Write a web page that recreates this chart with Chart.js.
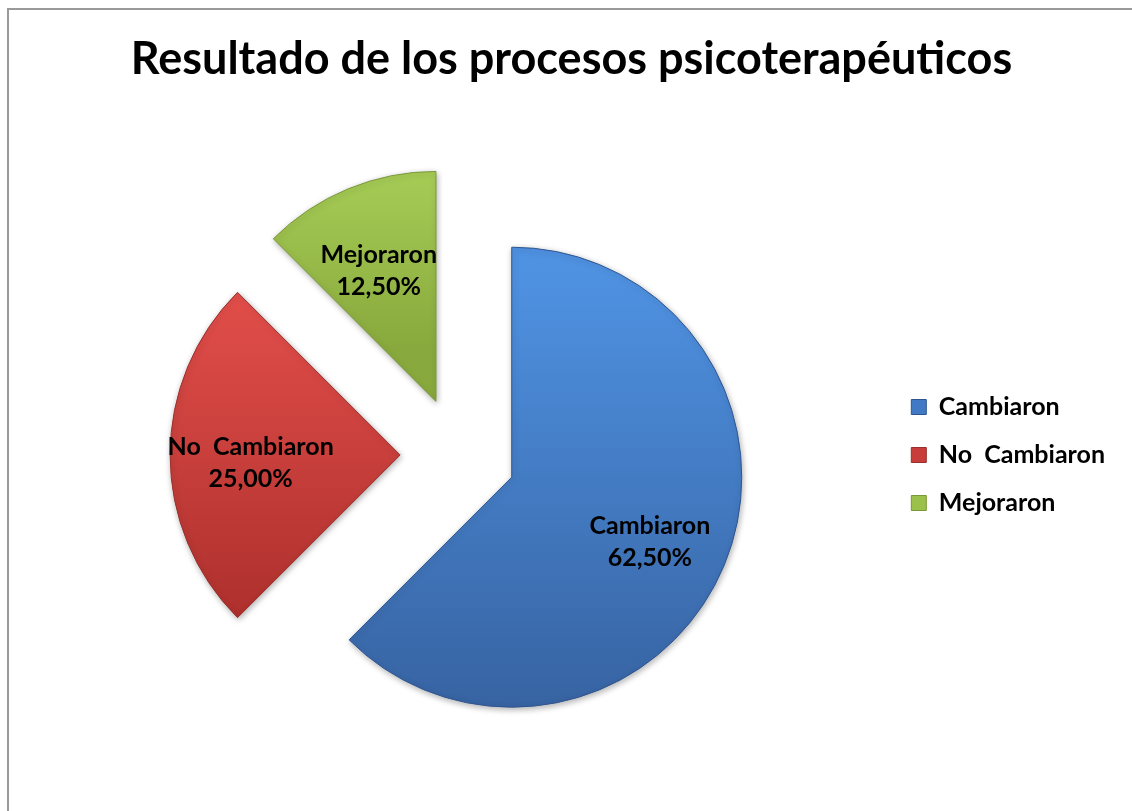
<!DOCTYPE html>
<html>
<head>
  <title>Resultado de los procesos psicoterapéuticos</title>
  <style>
    body {
      margin: 0;
      background: #fff;
      overflow: hidden;
    }
    /* marco gris del gráfico (solo se ven los bordes izquierdo y superior) */
    .frame {
      position: absolute;
      left: 7px;
      top: 8px;
      right: -10px;
      bottom: -10px;
      border-left: 2px solid #9a9a9a;
      border-top: 2px solid #9a9a9a;
    }
    .chart-box {
      position: absolute;
      left: 0;
      top: 0;
      width: 1132px;
      height: 811px;
    }
  </style>
</head>
<body>
  <div class="frame"></div>
  <div class="chart-box"><canvas id="pieChart"></canvas></div>

  <script src="https://cdn.jsdelivr.net/npm/chart.js"></script>

  <script>
    const chartTitle = 'Resultado de los procesos psicoterapéuticos';
    const categories = ['Cambiaron', 'No  Cambiaron', 'Mejoraron'];
    const percentages = [62.5, 25, 12.5];

    const baseColors = ['#4279c4', '#c83c39', '#9bc14b'];
    const lightColors = ['#4f92e2', '#e24e4a', '#b0d75d'];
    const darkColors = ['#36619f', '#ae302d', '#88a93d'];
    const edgeColors = ['#2f5590', '#98302d', '#7a9838'];

    const FONT = 'Lato, "Open Sans", sans-serif';
    const RADIUS = 230;   // radio del pastel
    const EXPLODE = 58;   // separación de cada porción

    function formatPct(v) {
      return v.toFixed(2).replace('.', ',') + '%';
    }

    // Chart.js agranda y estrecha las porciones con offset: se compensa aquí,
    // y se pone un degradado vertical a cada porción
    const sliceStyle = {
      id: 'sliceStyle',
      afterDatasetUpdate(chart, args) {
        const meta = chart.getDatasetMeta(args.index);
        meta.data.forEach((arc, i) => {
          const start = arc.startAngle, end = arc.endAngle;
          const fix = 1 - Math.sin(Math.min(Math.PI, arc.circumference));
          const r0 = EXPLODE * fix;
          arc.outerRadius = RADIUS - r0;
          const angleOffset = r0 / (2 * Math.PI * RADIUS);
          arc.startAngle = start - angleOffset;
          arc.endAngle = end + angleOffset;
          arc.midAngle = (start + end) / 2;

          const cy = arc.y + Math.sin(arc.midAngle) * EXPLODE;
          let top = cy, bottom = cy;
          for (let k = 0; k <= 60; k++) {
            const a = start + (end - start) * k / 60;
            const y = cy + Math.sin(a) * RADIUS;
            top = Math.min(top, y);
            bottom = Math.max(bottom, y);
          }
          const g = chart.ctx.createLinearGradient(0, top, 0, bottom);
          g.addColorStop(0, lightColors[i]);
          g.addColorStop(1, darkColors[i]);
          arc.options = Object.assign({}, arc.options, { backgroundColor: g });
        });
      },
      beforeDatasetsDraw(chart) {
        const ctx = chart.ctx;
        ctx.save();
        ctx.shadowColor = 'rgba(0,0,0,0.3)';
        ctx.shadowBlur = 6;
        ctx.shadowOffsetX = 1;
        ctx.shadowOffsetY = 2;
      },
      afterDatasetsDraw(chart) {
        const ctx = chart.ctx;
        ctx.restore();

        // etiquetas dentro de cada porción
        const meta = chart.getDatasetMeta(0);
        const data = chart.data.datasets[0].data;
        const total = data.reduce((a, b) => a + b, 0);
        ctx.save();
        ctx.font = 'bold 25px ' + FONT;
        ctx.fillStyle = '#000';
        ctx.textAlign = 'center';
        ctx.textBaseline = 'middle';
        meta.data.forEach((arc, i) => {
          const mid = arc.midAngle;
          const dist = EXPLODE + RADIUS * 0.65;
          const x = arc.x + Math.cos(mid) * dist;
          const y = arc.y + Math.sin(mid) * dist + 8;
          ctx.fillText(chart.data.labels[i], x, y - 16);
          ctx.fillText(formatPct(data[i] / total * 100), x, y + 16);
        });
        ctx.restore();
      }
    };

    const ctx = document.getElementById('pieChart').getContext('2d');
    new Chart(ctx, {
      type: 'pie',
      data: {
        labels: categories,
        datasets: [{
          data: percentages,
          backgroundColor: baseColors,
          borderColor: edgeColors,
          borderWidth: 1,
          offset: EXPLODE * 4,
          radius: RADIUS
        }]
      },
      options: {
        responsive: true,
        maintainAspectRatio: false,
        animation: false,
        events: [],
        radius: RADIUS,
        layout: {
          padding: { left: 28, right: 17, top: 0, bottom: 0 }
        },
        plugins: {
          title: {
            display: true,
            text: chartTitle,
            color: '#000',
            font: { family: FONT, size: 45, weight: 'bold' },
            padding: { top: 32, bottom: 13 }
          },
          legend: {
            position: 'right',
            fullSize: false,
            labels: {
              color: '#000',
              boxWidth: 15,
              boxHeight: 15,
              padding: 23,
              font: { family: FONT, size: 25, weight: 'bold', lineHeight: 1.2 }
            }
          },
          tooltip: { enabled: false }
        }
      },
      plugins: [sliceStyle]
    });
  </script>
</body>
</html>
